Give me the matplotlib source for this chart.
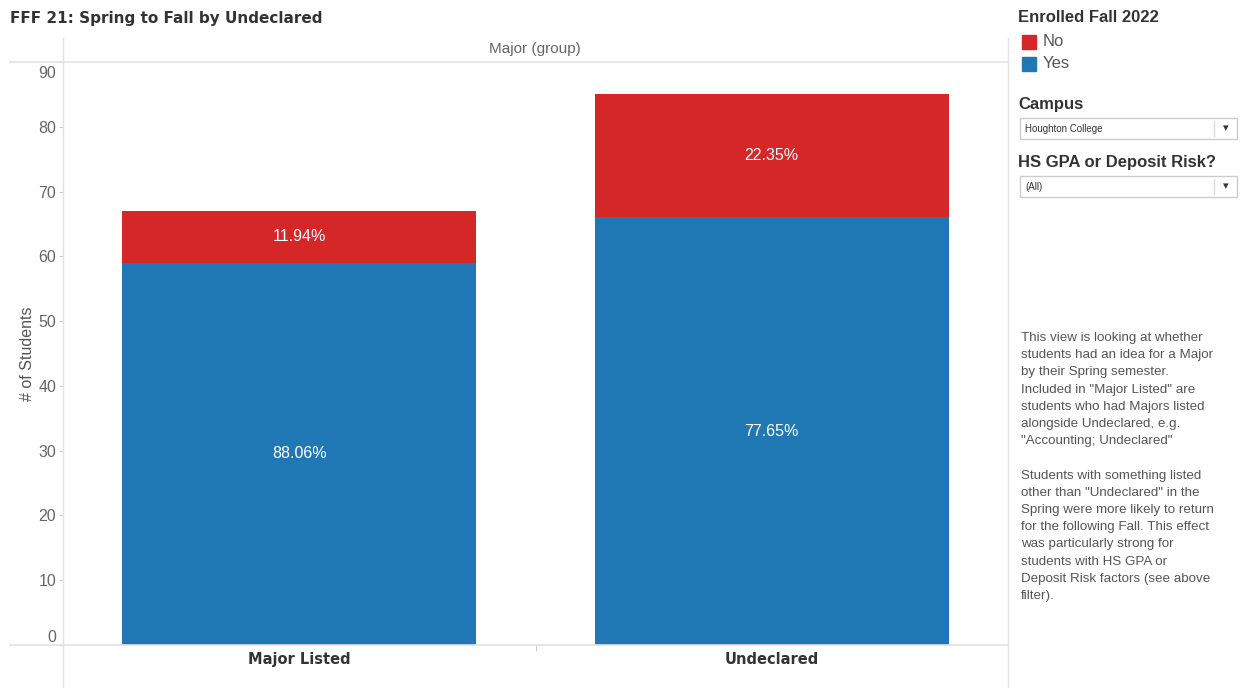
import matplotlib.pyplot as plt
import matplotlib.transforms as mtransforms
from matplotlib.lines import Line2D
from matplotlib.patches import Rectangle

# data
categories = ['Major Listed', 'Undeclared']
enrolled_yes = [59, 66]
enrolled_no = [8, 19]
y_ticks = [0, 10, 20, 30, 40, 50, 60, 70, 80, 90]

note_lines = [
    'This view is looking at whether',
    'students had an idea for a Major',
    'by their Spring semester.',
    'Included in "Major Listed" are',
    'students who had Majors listed',
    'alongside Undeclared, e.g.',
    '"Accounting; Undeclared"',
    '',
    'Students with something listed',
    'other than "Undeclared" in the',
    'Spring were more likely to return',
    'for the following Fall. This effect',
    'was particularly strong for',
    'students with HS GPA or',
    'Deposit Risk factors (see above',
    'filter).',
]

RED = '#d62728'
BLUE = '#1f77b4'
GRID = '#e2e2e2'
W, H = 1244, 688


def fx(x):
    return x / W


def fy(y):
    return 1 - y / H


fig = plt.figure(figsize=(12.44, 6.88), dpi=100)
ax = fig.add_axes([fx(63), fy(645), fx(1008) - fx(63), fy(62) - fy(645)])

x = list(range(len(categories)))
ax.bar(x, enrolled_yes, width=0.75, color=BLUE)
ax.bar(x, enrolled_no, width=0.75, bottom=enrolled_yes, color=RED)

for i in x:
    total = enrolled_yes[i] + enrolled_no[i]
    ax.text(i, enrolled_yes[i] / 2, '%.2f%%' % (enrolled_yes[i] / total * 100),
            ha='center', va='center', color='white', fontsize=11.5, family='Liberation Sans')
    ax.text(i, enrolled_yes[i] + enrolled_no[i] / 2, '%.2f%%' % (enrolled_no[i] / total * 100),
            ha='center', va='center', color='white', fontsize=11.5, family='Liberation Sans')

ax.set_xlim(-0.5, 1.5)
ax.set_ylim(0, 90)
for s in ax.spines.values():
    s.set_visible(False)

ax.set_yticks(y_ticks)
ax.set_yticklabels([str(t) for t in y_ticks], family='Liberation Sans', fontsize=11.5, color='#666666')
ax.tick_params(axis='y', length=3, width=0.8, color='#cccccc', pad=2)
labels = ax.get_yticklabels()
labels[0].set_va('bottom')
labels[-1].set_va('top')
labels[-1].set_transform(labels[-1].get_transform() +
                         mtransforms.ScaledTranslation(0, -4 / 100, fig.dpi_scale_trans))

ax.set_xticks(x)
ax.set_xticklabels(categories, fontweight='bold', fontsize=10.5, color='#333333')
ax.set_xticks([0.5], minor=True)
ax.tick_params(axis='x', which='major', length=0, pad=5)
ax.tick_params(axis='x', which='minor', length=4, width=0.8, color='#cccccc')

ax.set_ylabel('# of Students', family='Liberation Sans', fontsize=11.5, color='#555555', labelpad=2)

# frame lines like the dashboard
fig.add_artist(Line2D([fx(63), fx(63)], [fy(38), fy(688)], color=GRID, lw=1))
fig.add_artist(Line2D([fx(1008), fx(1008)], [fy(38), fy(688)], color=GRID, lw=1))
fig.add_artist(Line2D([fx(10), fx(1008)], [fy(62), fy(62)], color=GRID, lw=1.2))
fig.add_artist(Line2D([fx(10), fx(1008)], [fy(645), fy(645)], color=GRID, lw=1.2))

fig.text(fx(535), fy(49), 'Major (group)', ha='center', va='center',
         family='Liberation Sans', fontsize=11, color='#666666')
fig.text(fx(10), fy(19), 'FFF 21: Spring to Fall by Undeclared', ha='left', va='center',
         fontweight='bold', fontsize=11, color='#333333')

# right panel: legend and filters
fig.text(fx(1018), fy(18), 'Enrolled Fall 2022', ha='left', va='center',
         family='Liberation Sans', fontweight='bold', fontsize=12, color='#333333')
for yy, col, lab in [(42, RED, 'No'), (64, BLUE, 'Yes')]:
    fig.add_artist(Rectangle((fx(1022), fy(yy + 7)), fx(14), 14 / H, color=col))
    fig.text(fx(1043), fy(yy), lab, ha='left', va='center',
             family='Liberation Sans', fontsize=12, color='#555555')

fig.text(fx(1018), fy(104), 'Campus', ha='left', va='center',
         family='Liberation Sans', fontweight='bold', fontsize=12, color='#333333')
fig.text(fx(1018), fy(162), 'HS GPA or Deposit Risk?', ha='left', va='center',
         family='Liberation Sans', fontweight='bold', fontsize=12, color='#333333')
for top, txt in [(118, 'Houghton College'), (176, '(All)')]:
    fig.add_artist(Rectangle((fx(1020), fy(top + 21)), fx(217), 21 / H,
                             facecolor='white', edgecolor='#cccccc', lw=1))
    fig.add_artist(Line2D([fx(1214), fx(1214)], [fy(top + 3), fy(top + 18)], color='#dddddd', lw=1))
    fig.text(fx(1025), fy(top + 10.5), txt, ha='left', va='center',
             family='Liberation Sans', fontsize=7, color='#333333')
    fig.text(fx(1226), fy(top + 10.5), '\u25be', ha='center', va='center',
             fontsize=8, color='#333333')

for k, line in enumerate(note_lines):
    fig.text(fx(1021), fy(338 + k * 17.2), line, ha='left', va='center',
             family='Liberation Sans', fontsize=9.6, color='#555555')

fig.savefig('out.png', dpi=100)
